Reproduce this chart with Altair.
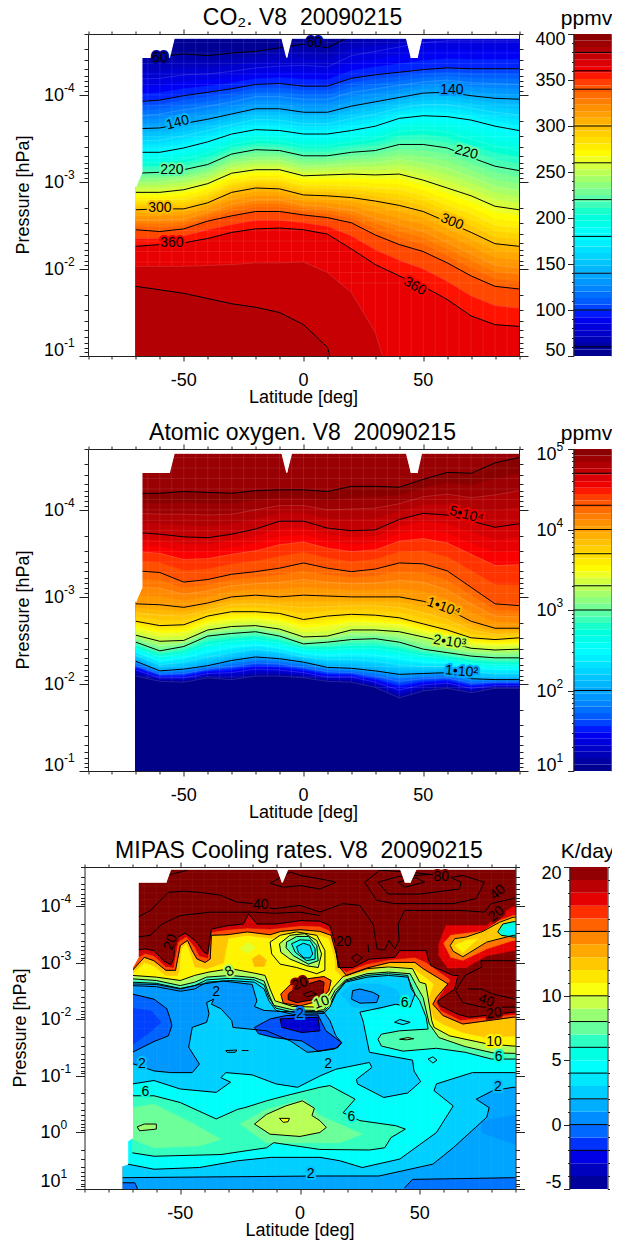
import altair as alt
import pandas as pd

FONT = "Liberation Sans"
JET = ['#000088', '#0000FF', '#00FFFF', '#FFFF00', '#FF0000', '#800000']
JET_T = [0, .125, .375, .625, .875, 1]
LATS = [-70, -60, -50, -40, -30, -20, -10, 0, 10, 20, 30, 40, 50, 60, 70, 80, 90]
X_TICKS = list(range(-90, 91, 10))
GRID_LAT = list(range(-65, 90, 5))
GRID_LOGP = [-4.6 + 0.12 * k for k in range(24)]

# ---------- panel 1: CO2 (log10 pressure of each mixing-ratio level, per latitude)
CO2_60 = [-4.44,-4.44,-4.47,-4.45,-4.48,-4.50,-4.54,-4.58,-4.54,-4.68,-4.68,-4.68,-4.68,-4.68,-4.68,-4.68,-4.68]
CO2_80 = [-4.18,-4.19,-4.23,-4.24,-4.27,-4.31,-4.33,-4.34,-4.32,-4.45,-4.50,-4.55,-4.60,-4.62,-4.62,-4.62,-4.62]
CO2_100 = [-3.92,-3.94,-3.99,-4.03,-4.07,-4.12,-4.13,-4.10,-4.10,-4.19,-4.23,-4.26,-4.29,-4.31,-4.30,-4.30,-4.30]
CO2_120 = [-3.76,-3.78,-3.83,-3.87,-3.92,-3.98,-3.98,-3.95,-3.95,-4.03,-4.07,-4.11,-4.15,-4.17,-4.14,-4.13,-4.12]
CO2_140 = [-3.61,-3.62,-3.67,-3.72,-3.78,-3.84,-3.84,-3.80,-3.80,-3.87,-3.92,-3.97,-4.02,-4.03,-3.99,-3.96,-3.95]
CO2_160 = [-3.47,-3.48,-3.53,-3.59,-3.66,-3.72,-3.71,-3.67,-3.67,-3.73,-3.78,-3.85,-3.89,-3.89,-3.85,-3.80,-3.77]
CO2_180 = [-3.34,-3.34,-3.39,-3.46,-3.55,-3.60,-3.59,-3.55,-3.55,-3.59,-3.64,-3.73,-3.76,-3.75,-3.71,-3.64,-3.59]
CO2_200 = [-3.22,-3.22,-3.26,-3.33,-3.43,-3.48,-3.47,-3.42,-3.42,-3.46,-3.50,-3.58,-3.60,-3.57,-3.49,-3.41,-3.36]
CO2_220 = [-3.10,-3.11,-3.14,-3.20,-3.32,-3.37,-3.36,-3.30,-3.30,-3.34,-3.36,-3.43,-3.43,-3.39,-3.28,-3.18,-3.13]
CO2_240 = [-2.99,-3.00,-3.03,-3.09,-3.21,-3.25,-3.25,-3.18,-3.19,-3.21,-3.22,-3.26,-3.22,-3.16,-3.06,-2.95,-2.90]
CO2_260 = [-2.88,-2.88,-2.91,-2.98,-3.10,-3.14,-3.14,-3.07,-3.08,-3.09,-3.08,-3.09,-3.02,-2.93,-2.84,-2.72,-2.68]
CO2_280 = [-2.78,-2.78,-2.80,-2.87,-2.99,-3.03,-3.03,-2.96,-2.96,-2.95,-2.93,-2.91,-2.84,-2.73,-2.63,-2.50,-2.47]
CO2_300 = [-2.68,-2.69,-2.69,-2.76,-2.88,-2.93,-2.92,-2.85,-2.84,-2.82,-2.78,-2.73,-2.66,-2.54,-2.42,-2.29,-2.26]
CO2_320 = [-2.56,-2.56,-2.57,-2.65,-2.74,-2.79,-2.79,-2.73,-2.71,-2.67,-2.58,-2.50,-2.43,-2.30,-2.17,-2.04,-2.01]
CO2_340 = [-2.45,-2.43,-2.46,-2.55,-2.61,-2.66,-2.66,-2.62,-2.59,-2.53,-2.39,-2.28,-2.20,-2.07,-1.92,-1.80,-1.77]
CO2_350 = [-2.35,-2.35,-2.38,-2.45,-2.51,-2.56,-2.56,-2.53,-2.49,-2.38,-2.22,-2.10,-2.00,-1.86,-1.69,-1.58,-1.55]
CO2_360 = [-2.26,-2.28,-2.30,-2.35,-2.42,-2.46,-2.47,-2.45,-2.40,-2.23,-2.05,-1.92,-1.80,-1.65,-1.46,-1.36,-1.34]
CO2_370_LAT = [-70,-60,-50,-40,-30,-20,-10,0,10,20,30,33]
CO2_370 = [-2.03,-2.03,-2.03,-2.04,-2.05,-2.07,-2.07,-2.08,-1.96,-1.73,-1.27,-1.00]
CO2_380_LAT = [-70,-60,-50,-40,-30,-20,-10,0,10,11]
CO2_380 = [-1.80,-1.76,-1.72,-1.66,-1.60,-1.56,-1.50,-1.36,-1.10,-1.00]

CO2_BANDS = [(60,CO2_60,1),(80,CO2_80,0),(100,CO2_100,1),(120,CO2_120,0),(140,CO2_140,1),(160,CO2_160,0),
             (180,CO2_180,1),(200,CO2_200,0),(220,CO2_220,1),(240,CO2_240,0),(260,CO2_260,1),(280,CO2_280,0),
             (300,CO2_300,1),(320,CO2_320,0),(340,CO2_340,1),(350,CO2_350,0),(360,CO2_360,1)]
CO2_LABELS = [(-60,-4.42,"60",0,58),(4.5,-4.59,"60",0,60),(62,-4.05,"140",0,130),(-52.5,-3.68,"140",345,145),
              (-55,-3.14,"220",0,222),(68,-3.34,"220",15,222),(-60,-2.70,"300",0,300),(62,-2.54,"300",22,300),
              (-55,-2.30,"360",0,360),(46.5,-1.80,"360",30,360)]

# ---------- panel 2: atomic oxygen
O_1e5 = [-4.19,-4.19,-4.21,-4.20,-4.19,-4.22,-4.23,-4.23,-4.21,-4.27,-4.27,-4.26,-4.35,-4.43,-4.42,-4.54,-4.60]
O_7e4 = [-3.96,-3.95,-3.95,-3.94,-3.95,-4.00,-4.05,-4.05,-4.00,-4.01,-4.02,-4.07,-4.15,-4.18,-4.14,-4.17,-4.22]
O_5e4 = [-3.74,-3.72,-3.69,-3.68,-3.72,-3.78,-3.87,-3.87,-3.79,-3.76,-3.77,-3.89,-3.96,-3.94,-3.87,-3.80,-3.84]
O_3e4 = [-3.52,-3.50,-3.43,-3.44,-3.49,-3.53,-3.60,-3.63,-3.56,-3.52,-3.54,-3.64,-3.67,-3.62,-3.49,-3.36,-3.37]
O_2e4 = [-3.30,-3.28,-3.17,-3.20,-3.26,-3.29,-3.33,-3.39,-3.33,-3.29,-3.32,-3.39,-3.38,-3.30,-3.11,-2.92,-2.90]
O_14e3 = [-3.11,-3.10,-3.03,-3.07,-3.13,-3.15,-3.17,-3.20,-3.17,-3.15,-3.16,-3.19,-3.17,-3.08,-2.92,-2.78,-2.77]
O_1e4 = [-2.92,-2.91,-2.88,-2.93,-3.00,-3.02,-3.00,-3.02,-3.01,-3.00,-3.00,-3.00,-2.95,-2.86,-2.72,-2.64,-2.64]
O_7e3 = [-2.82,-2.79,-2.78,-2.85,-2.91,-2.92,-2.90,-2.88,-2.89,-2.90,-2.90,-2.88,-2.82,-2.74,-2.62,-2.57,-2.58]
O_5e3 = [-2.72,-2.67,-2.68,-2.78,-2.83,-2.83,-2.81,-2.74,-2.78,-2.80,-2.79,-2.76,-2.69,-2.62,-2.53,-2.51,-2.53]
O_3e3 = [-2.64,-2.58,-2.59,-2.70,-2.74,-2.75,-2.72,-2.64,-2.66,-2.71,-2.70,-2.68,-2.61,-2.55,-2.47,-2.45,-2.46]
O_2e3 = [-2.56,-2.49,-2.50,-2.62,-2.66,-2.67,-2.63,-2.54,-2.55,-2.62,-2.62,-2.60,-2.54,-2.48,-2.41,-2.39,-2.40]
O_14e2 = [-2.52,-2.44,-2.47,-2.59,-2.62,-2.64,-2.59,-2.50,-2.52,-2.57,-2.57,-2.54,-2.47,-2.42,-2.37,-2.35,-2.35]
O_1e3 = [-2.48,-2.38,-2.43,-2.55,-2.58,-2.60,-2.55,-2.46,-2.48,-2.51,-2.52,-2.48,-2.40,-2.36,-2.32,-2.30,-2.30]
O_500 = [-2.41,-2.31,-2.35,-2.45,-2.49,-2.51,-2.47,-2.40,-2.39,-2.41,-2.41,-2.37,-2.32,-2.29,-2.24,-2.22,-2.22]
O_300 = [-2.37,-2.26,-2.30,-2.37,-2.42,-2.45,-2.41,-2.35,-2.33,-2.34,-2.33,-2.29,-2.25,-2.24,-2.18,-2.17,-2.17]
O_200 = [-2.33,-2.22,-2.25,-2.31,-2.36,-2.40,-2.37,-2.31,-2.28,-2.28,-2.26,-2.22,-2.20,-2.20,-2.14,-2.12,-2.12]
O_100 = [-2.26,-2.15,-2.17,-2.21,-2.27,-2.31,-2.29,-2.25,-2.19,-2.18,-2.15,-2.11,-2.12,-2.13,-2.06,-2.05,-2.05]
O_50 = [-2.21,-2.11,-2.12,-2.17,-2.20,-2.24,-2.23,-2.19,-2.14,-2.13,-2.09,-2.03,-2.06,-2.07,-2.01,-2.02,-2.02]
O_25 = [-2.16,-2.07,-2.07,-2.12,-2.13,-2.17,-2.16,-2.13,-2.08,-2.08,-2.02,-1.93,-1.99,-2.01,-1.95,-1.98,-1.98]
O_12 = [-2.09,-2.03,-2.02,-2.07,-2.05,-2.09,-2.09,-2.07,-2.03,-2.02,-1.96,-1.84,-1.92,-1.95,-1.90,-1.95,-1.95]
O_BANDS = [(5.0,O_1e5,1),(4.845,O_7e4,0),(4.7,O_5e4,1),(4.477,O_3e4,0),(4.3,O_2e4,1),(4.146,O_14e3,0),(4.0,O_1e4,1),
           (3.845,O_7e3,0),(3.7,O_5e3,1),(3.477,O_3e3,0),(3.3,O_2e3,1),(3.146,O_14e2,0),(3.0,O_1e3,1),(2.7,O_500,0),
           (2.477,O_300,0),(2.3,O_200,0),(2.0,O_100,1),(1.7,O_50,0),(1.4,O_25,0),(1.08,O_12,0)]
O_LABELS = [(68,-3.94,"5\u202210\u2074",15,4.6),(58.5,-2.88,"1\u202210\u2074",20,3.9),
            (61,-2.48,"2\u202210\u00b3",8,3.3),(66,-2.14,"1\u202210\u00b2",5,2.0)]

TOP_MASK = [(-70,-2.95),(-67.5,-3.11),(-67.5,-4.43),(-56,-4.43),(-54,-4.65),(-9,-4.65),(-7,-4.43),(-5,-4.65),
            (43,-4.65),(45,-4.43),(47.5,-4.43),(49.3,-4.65),(91,-4.65),(91,-4.8),(-71,-4.8),(-71,-2.95)]

# ---------- panel 3: cooling rates; closed regions painted in order: (value, outlined, outline points)
CR_BASE = [(-74.4,1.1),(-74.4,0.59),(-72,0.56),(-72,0.15),(-70,0.09),(-70,-4.68),(95,-4.68),(95,1.1)]
CR_COLD4 = [(-72,-2.60),(-60,-2.58),(-50,-2.50),(-44,-2.54),(-39,-2.66),(-29,-2.69),(-19,-2.66),(-15,-2.54),(-13,-2.33),(-10,-2.16),
            (-3,-2.09),(7,-2.10),(10,-2.11),(12.5,-2.22),(15,-2.45),(19,-2.66),(28,-2.75),(37,-2.78),(45,-2.75),(48,-2.45),(46,-2.22),
            (40,-2.27),(35,-2.22),(25,-2.13),(26.3,-1.98),(29,-1.42),(47,-1.28),(47.6,-1.09),(50.4,-0.90),(45,-0.70),(35,-0.62),(24,-0.86),
            (23.6,-0.94),(30,-1.15),(29,-1.24),(15,-1.12),(8.3,-1.00),(-1,-0.80),(-10,-0.86),(-20,-1.02),(-31,-1.06),(-33,-0.97),(-29,-0.89),
            (-35,-0.71),(-50,-0.77),(-61,-0.92),(-72,-0.86),(-72,-2.60)]
CR_LOW4 = [(-72,0.56),(-61,0.65),(-42,0.62),(-26,0.50),(-12,0.44),(8.3,0.44),(16.6,0.50),(26,0.62),(41.7,0.47),(57,0.0),(64,-0.47),
           (56,-0.74),(57,-0.86),(72,-1.06),(89,-1.06),(95,-1.06),(95,1.1),(-74.4,1.1),(-74.4,0.59)]
CR_LOW2 = [(-74.4,0.80),(8.3,0.77),(33,0.77),(55.5,0.56),(64,0.27),(78,-0.27),(79,-0.44),(73.6,-0.59),(80.5,-0.74),(89,-0.80),(95,-0.80),
           (95,1.1),(-74.4,1.1)]
CR_LOW2_IN = [(76,-0.2),(89,-0.3),(95,-0.3),(95,0.25),(89,0.2),(76,0.0)]
CR_LOW0 = [(43.7,0.98),(47,0.83),(89,0.80),(95,0.80),(95,1.1),(43,1.1)]
CR_LOW0B = [(-74.4,0.89),(-69,0.89),(-68,0.98),(-68,1.1),(-74.4,1.1)]
CR_LOBE6 = [(-72,-0.65),(-61,-0.65),(-50,-0.53),(-35,-0.24),(-26,-0.41),(-23,-0.44),(-14,-0.56),(-6,-0.65),(8.3,-0.80),(12.5,-0.83),(23,-0.59),
            (18,-0.35),(25,-0.21),(40,-0.12),(44,-0.06),(38,0.09),(35.4,0.27),(29,0.31),(8.3,0.30),(-11,0.18),(-14,0.27),(-33,0.39),(-61,0.42),(-72,0.36),(-72,-0.65)]
CR_SHADE_L = [(-72,-0.44),(-61,-0.50),(-47,-0.21),(-33,0.12),(-42,0.24),(-61,0.27),(-72,0.12)]
CR_SHADE_E = [(-25,-0.15),(-14,-0.41),(2,-0.59),(8.3,-0.30),(26,0.03),(16.6,0.18),(-14,0.18)]
CR_BLOB8L = [(-68,-0.10),(-65,-0.15),(-60,-0.15),(-60,-0.06),(-67,-0.03),(-68,-0.10)]
CR_BLOB8E = [(-19,-0.15),(-14,-0.32),(-6,-0.47),(1,-0.56),(6,-0.43),(5,-0.30),(8.3,-0.21),(11,-0.09),(8.3,0.0),(0,0.07),(-12.5,0.03),(-19,-0.15)]
CR_BLOB10 = [(-8.6,-0.25),(-4.4,-0.25),(-5,-0.19),(-7,-0.18),(-8.6,-0.25)]
CR_S6 = [(-72,-2.66),(-60,-2.64),(-50,-2.55),(-44,-2.60),(-39,-2.70),(-29,-2.73),(-19,-2.70),(-15,-2.61),(-13,-2.39),(-10,-2.20),(-3,-2.13),(7,-2.13),(10,-2.14),
         (12.5,-2.26),(15,-2.48),(19,-2.68),(28,-2.78),(37,-2.81),(45,-2.78),(46.5,-2.54),(50,-2.33),(52.7,-2.04),(53.5,-1.83),(41.6,-1.80),(34,-1.74),(32.6,-1.65),
         (34,-1.53),(43,-1.44),(57,-1.49),(69,-1.42),(80,-1.30),(90,-1.30),(95,-1.30),(95,-4.68),(-72,-4.68)]
CR_S8 = [(-72,-2.72),(-60,-2.69),(-50,-2.60),(-44,-2.66),(-39,-2.75),(-29,-2.78),(-19,-2.74),(-15,-2.68),(-13,-2.45),(-11,-2.25),(-3,-2.17),(7,-2.16),(10,-2.17),
         (12,-2.30),(14.6,-2.51),(19,-2.70),(28,-2.81),(37,-2.84),(46,-2.81),(48.6,-2.60),(51.4,-2.39),(54,-1.92),(58,-1.68),(69,-1.52),(80.5,-1.41),(90,-1.40),(95,-1.40),(95,-4.68),(-72,-4.68)]
CR_S10 = [(-72,-2.78),(-60,-2.75),(-50,-2.69),(-44,-2.78),(-38,-2.84),(-29,-2.90),(-19,-2.82),(-14.6,-2.78),(-12.5,-2.54),(-10.4,-2.33),(-3,-2.23),(7,-2.22),(10,-2.24),
          (11.4,-2.39),(14,-2.57),(18,-2.76),(28,-2.90),(37,-2.93),(47,-2.90),(50,-2.66),(52.5,-2.63),(53.5,-2.39),(55,-1.98),(56,-1.86),(62.5,-1.71),(78,-1.57),(89,-1.53),(95,-1.53),(95,-4.68),(-72,-4.68)]
CR_U12 = [(-72,-2.82),(-70,-2.82),(-65,-3.01),(-61,-2.95),(-56,-2.78),(-51.4,-2.78),(-50.7,-2.84),(-49.6,-3.25),(-47.5,-3.35),(-45.8,-3.19),(-43.8,-2.93),(-39,-2.90),(-35.4,-2.95),
          (-32,-3.0),(-30,-3.44),(-22,-3.49),(-12.5,-3.44),(0,-3.49),(8,-3.49),(12,-3.44),(14.6,-3.10),(15,-2.87),(17.8,-2.74),(26.4,-2.84),(37.5,-2.95),(47,-2.92),(51.4,-2.78),(56,-2.63),
          (54,-2.39),(54.8,-2.16),(56.2,-2.01),(59.7,-1.92),(68,-1.77),(78,-1.68),(89,-1.71),(95,-1.71),(95,-4.68),(-72,-4.68)]
CR_U15 = [(-72,-2.87),(-70,-2.87),(-65,-3.10),(-61,-3.04),(-56,-2.87),(-52,-2.87),(-50,-3.31),(-47,-3.40),(-45,-3.22),(-43,-3.07),(-39.6,-3.01),(-37.5,-3.07),(-37,-3.49),(-30.5,-3.50),
          (-22,-3.55),(-12.5,-3.50),(-8,-3.56),(0,-3.59),(8.3,-3.56),(13,-3.49),(15,-3.19),(16.6,-2.92),(19.4,-2.78),(27.8,-2.91),(37.5,-3.01),(48,-3.01),(51.4,-2.90),(61.8,-2.63),(57,-2.39),
          (55.5,-2.27),(59.7,-2.07),(68,-1.92),(89,-2.04),(95,-2.04),(95,-4.68),(-72,-4.68)]
CR_U18 = [(-72,-3.0),(-69,-3.07),(-64.6,-3.17),(-61,-3.13),(-56,-2.94),(-53,-2.92),(-51,-3.37),(-47.5,-3.47),(-44,-3.29),(-42,-3.13),(-38.6,-3.09),(-37,-3.55),(-30.5,-3.59),(-22,-3.62),
          (-12.5,-3.60),(0,-3.66),(8.3,-3.65),(12.5,-3.57),(15,-3.28),(16.4,-2.92),(19.4,-2.85),(27.8,-2.98),(37.5,-3.06),(48,-3.10),(52.8,-3.01),(63,-2.70),(60,-2.51),(57,-2.30),(59,-2.16),
          (67,-1.99),(89,-2.09),(95,-2.09),(95,-4.68),(-72,-4.68)]
CR_U20 = [(-72,-3.2),(-68,-3.23),(-64.6,-3.25),(-61,-3.22),(-57,-3.04),(-54,-2.97),(-52.8,-3.07),(-52,-3.43),(-48,-3.53),(-43.8,-3.40),(-40,-3.19),(-38.6,-3.16),(-37,-3.60),(-30.5,-3.66),
          (-23.6,-3.69),(-21.5,-3.87),(-18,-3.69),(-10,-3.69),(0,-3.75),(8.3,-3.74),(12.5,-3.66),(14.6,-3.37),(16,-2.92),(22,-2.92),(28.9,-3.07),(39.6,-3.10),(41.7,-3.22),(52.8,-3.22),(53.5,-3.07),
          (54.8,-2.95),(63.9,-2.78),(66,-2.78),(64.6,-2.54),(57.6,-2.33),(58.3,-2.25),(66,-2.09),(70.8,-2.04),(89,-2.13),(95,-2.13),(95,-4.68),(-72,-4.68)]
CR_TONGUE_R = [(58,-3.34),(61,-3.66),(78,-3.66),(82.6,-3.84),(88.9,-3.99),(95,-3.99),(95,-3.20),(89,-3.22),(78,-3.13),(69.4,-2.92),(61.8,-2.91),(58,-3.13),(58,-3.34)]
CR_TONGUE_O = [(60,-3.35),(63,-3.49),(76.4,-3.56),(83.3,-3.75),(89,-3.84),(95,-3.84),(95,-3.40),(89,-3.40),(78,-3.25),(68,-3.05),(63,-3.10),(60,-3.35)]
CR_TONGUE_Y = [(62.7,-3.31),(64.6,-3.43),(69.4,-3.46),(76.4,-3.56),(83.3,-3.72),(89,-3.81),(95,-3.81),(95,-3.49),(89,-3.49),(78,-3.37),(68,-3.11),(63.9,-3.21),(62.7,-3.31)]
CR_TONGUE_G = [(64.6,-3.31),(69.4,-3.40),(74.3,-3.43),(68,-3.19)]
CR_TONGUE_C = [(82.6,-3.55),(84.7,-3.69),(89,-3.73),(95,-3.73),(95,-3.46),(89,-3.46),(84,-3.49),(82.6,-3.55)]
CR_TONGUE_B = [(86,-3.6),(89,-3.66),(95,-3.66),(95,-3.5),(86,-3.52)]
CR_SPOT_O = [(-20,-3.07),(-17,-3.15),(-14,-3.05),(-15,-2.94),(-19,-2.94)]
CR_SPOT_G = [(-25,-3.25),(-21.5,-3.37),(-18.8,-3.28),(-21.5,-3.17)]
CR_R1 = [(-12.5,-3.37),(-8.3,-3.49),(-1.4,-3.55),(7,-3.49),(10.4,-3.22),(10.4,-2.87),(7,-2.81),(-1.4,-2.92),(-8.3,-2.98),(-11.8,-3.16),(-12.5,-3.37)]
CR_R2 = [(-8.6,-3.34),(-4.2,-3.49),(2,-3.52),(7,-3.40),(9,-3.16),(7.6,-2.92),(2.8,-2.95),(-4.2,-3.07),(-8,-3.19),(-8.6,-3.34)]
CR_R3 = [(-5.6,-3.37),(-1.4,-3.47),(3.5,-3.47),(7,-3.31),(7.6,-3.04),(3.5,-2.98),(-2.8,-3.13),(-5.8,-3.27),(-5.6,-3.37)]
CR_R4 = [(-3.5,-3.34),(0,-3.41),(4.2,-3.40),(6.3,-3.25),(6.3,-3.07),(2.8,-3.04),(-2,-3.19),(-3.5,-3.34)]
CR_R5 = [(-1.4,-3.29),(1.4,-3.35),(4.2,-3.31),(5.3,-3.16),(4.2,-3.09),(1.7,-3.09),(-0.7,-3.19),(-1.4,-3.29)]
CR_HOT15 = [(-8,-2.45),(-4,-2.62),(3,-2.72),(8.3,-2.75),(10,-2.76),(13,-2.69),(12,-2.51),(8.3,-2.33),(0,-2.24),(-7,-2.29),(-8,-2.45)]
CR_HOT20 = [(-4.9,-2.45),(-1.4,-2.57),(8.3,-2.69),(10,-2.66),(9.7,-2.48),(7,-2.36),(-1.4,-2.30),(-4.9,-2.35),(-4.9,-2.45)]
CR_HOT40 = [(1.4,-2.45),(4.6,-2.50),(7,-2.45),(2.8,-2.40),(1.4,-2.45)]
CR_Z2 = [(-72,-2.63),(-60,-2.62),(-50,-2.54),(-42,-2.62),(-32,-2.68),(-20,-2.62),(-18,-2.33),(-19,-2.23),(-15,-2.16),(-7,-2.14),(8.3,-2.14),(10,-2.13),(12.5,-1.98),(15,-1.71),
         (17.4,-1.59),(14.6,-1.48),(8.3,-1.44),(3,-1.42),(-4,-1.62),(-14,-1.80),(-28,-1.86),(-28.5,-1.98),(-33,-2.19),(-37,-2.27),(-36,-2.36),(-39,-2.30),(-38,-2.1),(-39,-1.95),(-45,-1.86),
         (-46.5,-1.51),(-42,-1.21),(-45,-1.06),(-54,-1.06),(-61,-1.09),(-70,-1.22),(-72,-1.22),(-72,-2.63)]
CR_Z0L = [(-70,-1.42),(-61,-1.61),(-55,-1.71),(-53.5,-1.89),(-54,-1.98),(-55.6,-2.19),(-61,-2.36),(-70,-2.45),(-72,-2.45),(-72,-1.42),(-70,-1.42)]
CR_Z0L_IN = [(-70,-2.2),(-62,-2.15),(-58,-1.95),(-62,-1.80),(-70,-1.55),(-72,-1.55),(-72,-2.2)]
CR_Z0C = [(-19,-1.86),(-12.4,-2.01),(-5.8,-2.07),(7.5,-2.08),(10.8,-1.80),(17.4,-1.59),(15.7,-1.50),(7.5,-1.44),(0.8,-1.62),(-10.8,-1.68),(-17.4,-1.75),(-19,-1.86)]
CR_Z0C_IN = [(-8.3,-2.01),(7.5,-2.04),(8.3,-1.80),(0.8,-1.77),(-7.5,-1.86),(-8.3,-2.01)]
CR_NH2 = [(17,-2.45),(22,-2.63),(33,-2.63),(40,-2.54),(43,-2.33),(33,-2.18),(22,-2.22)]
CR_NH0 = [(22,-2.51),(25,-2.54),(30.5,-2.48),(33,-2.42),(32,-2.30),(25,-2.29),(21.5,-2.36),(22,-2.51)]
CR_NH8 = [(41.6,-1.65),(45,-1.68),(47.5,-1.66),(44.4,-1.64),(41.6,-1.65)]
CR_NH4 = [(39.5,-1.95),(41.7,-2.0),(46,-1.95),(43,-1.91),(39.5,-1.95)]

CR_PAINT = [(4.6,0,CR_BASE),(2.6,1,CR_COLD4),(2.6,1,CR_LOW4),(1.2,1,CR_LOW2),(0.7,0,CR_LOW2_IN),(-0.2,1,CR_LOW0),(-0.2,1,CR_LOW0B),
            (6.6,1,CR_LOBE6),(7.6,0,CR_SHADE_L),(7.6,0,CR_SHADE_E),(8.6,1,CR_BLOB8L),(9.2,1,CR_BLOB8E),(10.5,1,CR_BLOB10),
            (7,1,CR_S6),(9,1,CR_S8),(11,1,CR_S10),(12.6,0,CR_U12),(16,1,CR_U15),(18,0,CR_U18),(20.5,1,CR_U20),
            (17.5,0,CR_TONGUE_R),(15,0,CR_TONGUE_O),(12.5,1,CR_TONGUE_Y),(11,0,CR_TONGUE_G),(6,1,CR_TONGUE_C),(4,0,CR_TONGUE_B),
            (13,0,CR_SPOT_O),(10,0,CR_SPOT_G),(10.5,1,CR_R1),(9,1,CR_R2),(7,1,CR_R3),(5,1,CR_R4),(3,1,CR_R5),
            (16,1,CR_HOT15),(20.5,1,CR_HOT20),(20.5,1,CR_HOT40),
            (0.8,1,CR_Z2),(-0.6,1,CR_Z0L),(-1.3,0,CR_Z0L_IN),(-1,1,CR_Z0C),(-3,1,CR_Z0C_IN),(2,0,CR_NH2),(0.5,1,CR_NH0),(8.6,1,CR_NH8),(3.6,1,CR_NH4)]
CR_WIDE = [id(CR_BASE), id(CR_LOW4), id(CR_LOW2), id(CR_LOW0B)]

CR_LINES = [
    [(-67.8,-3.81),(-62.5,-3.93),(-55,-4.25),(-48.6,-4.27),(-41.7,-4.25),(-33.3,-4.20),(-26.4,-4.08),(-19.4,-4.05),(-11,-3.96),(0,-4.02),(8.3,-3.90),
     (18,-4.05),(25,-4.02),(30.5,-3.69),(32.2,-3.25),(35.4,-3.23),(37.2,-3.40),(39.6,-3.25),(41.4,-3.40),(41,-3.69),(43.7,-3.93),(54,-3.93),(66.6,-3.93),(77,-3.90),(79.8,-4.05),(88.9,-4.14),(90,-4.16)],
    [(-67.8,-3.46),(-62.5,-3.49),(-57.6,-3.69),(-50,-3.84),(-37.5,-3.90),(-27.8,-3.90),(-19.4,-3.90),(-11,-3.88),(0,-3.90),(8.3,-3.84)],
    [(-56,-4.55),(-47,-4.64)],
    [(-12.5,-4.41),(-7,-4.34),(0,-4.37),(8.3,-4.31),(15,-4.43),(8.3,-4.49),(0,-4.55),(-4,-4.61),(-12.5,-4.41)],
    [(27,-4.43),(32,-4.11),(39.6,-4.05),(63.9,-4.05),(73.6,-4.14),(77,-4.43),(68,-4.55),(63.9,-4.52),(45.8,-4.61),(33.3,-4.64),(27,-4.43)],
    [(32.6,-4.43),(36.8,-4.22),(50,-4.22),(66.6,-4.31),(67.3,-4.43),(62.5,-4.52),(55.5,-4.57),(41,-4.53),(32.6,-4.43)],
    [(41,-4.43),(43.7,-4.34),(52,-4.43),(48.6,-4.51),(41,-4.43)],
    [(21.5,-3.09),(23.6,-3.16),(26,-3.09),(23.6,-3.01),(21.5,-3.09)],
    [(28.4,-3.33),(28.7,-3.19)],
    [(53.5,-1.30),(55.5,-1.34),(57.2,-1.28),(55.5,-1.23),(53.5,-1.30)],
    [(-31,-1.45),(-26.4,-1.46),(-27,-1.42),(-30.5,-1.42),(-31,-1.45)],
    [(-24.3,-1.45),(-21.5,-1.45)],
    [(90,-3.04),(75.5,-3.04),(76,-2.93),(69,-2.78),(65,-2.51),(68,-2.30),(76,-2.22),(90,-2.22)],
    [(70,-2.54),(76,-2.54),(80.5,-2.45),(90,-2.36)],
]
CR_LABELS = [(-16.4,-4.02,"40",0,20.5),(-54,-3.37,"20",290,20.5),(18.3,-3.37,"20",0,20.5),(0,-2.63,"20",340,20.5),(9,-2.30,"10",340,9),
             (0,-2.10,"2",0,0),(-29.4,-2.85,"8",330,9),(-35,-2.49,"2",0,1),(43.7,-2.30,"6",0,6),(59,-4.52,"80",0,20.5),(82.6,-4.25,"40",320,20.5),
             (82,-3.87,"20",320,20.5),(81,-2.11,"20",350,20.5),(77.8,-2.33,"40",20,20.5),(81,-1.61,"10",0,11),(83,-1.33,"6",0,6),(11.8,-1.22,"2",0,2.6),
             (82.6,-0.81,"2",0,2),(21.5,-0.27,"6",0,5.5),(-66,-1.21,"2",0,2),(-64.6,-0.71,"6",0,5.5),(4.4,0.73,"2",0,2)]
CR_MASK = [(-76,1.1),(-74.4,1.1),(-74.4,0.59),(-72,0.56),(-72,0.15),(-70,0.09),(-70,-2.92),(-67.6,-3.10),(-67.6,-4.43),(-56,-4.43),(-54,-4.66),(-9.4,-4.66),(-7.4,-4.43),
           (-5.1,-4.66),(42,-4.66),(44,-4.43),(46,-4.43),(48.5,-4.66),(91,-4.66),(91,-4.8),(-76,-4.8)]

# ---------- colour bars
CO2_BAR_EDGES = [50 + 7 * k for k in range(51)]
O_BAR_EDGES = [1 + 0.08 * k for k in range(51)]
CR_BAR_EDGES = list(range(-5, 21))
CO2_BAR_LINES = [60, 100, 140, 180, 220, 260, 300, 340, 360, 380]
O_BAR_LINES = [50000, 20000, 10000, 5000, 2000, 1000, 100]
CR_BAR_LINES = [-2, 0, 2, 4, 6, 8, 10, 15]
CO2_BAR_TICKS = list(range(50, 401, 10))
CR_BAR_TICKS = list(range(-5, 21))
O_BAR_TICKS = [m * 10 ** e for e in range(1, 5) for m in range(1, 10)] + [100000]


def jet(lo, hi):
    return alt.Scale(domain=[lo + (hi - lo) * t for t in JET_T], range=JET, clamp=True)


def slabs(pts):
    """Split a closed outline into pieces that a vertical-band area mark can draw."""
    edges = list(zip(pts, pts[1:] + pts[:1]))
    xs = sorted(set(p[0] for p in pts))
    out = []
    for a, b in zip(xs, xs[1:]):
        m = (a + b) / 2
        hit = []
        for (x1, y1), (x2, y2) in edges:
            if min(x1, x2) <= m < max(x1, x2):
                f = lambda x: y1 + (x - x1) / (x2 - x1) * (y2 - y1)
                hit.append((f(m), f(a), f(b)))
        hit.sort()
        for k in range(0, len(hit) - 1, 2):
            out.append((a, b, hit[k][1], hit[k + 1][1], hit[k][2], hit[k + 1][2]))
    return out


def polys_df(polys):
    rows = []
    n = 0
    for val, pts in polys:
        for a, b, t1, b1, t2, b2 in slabs(pts):
            rows.append(dict(id=n, lat=a, p=10.0 ** t1, p2=10.0 ** b1, val=val))
            rows.append(dict(id=n, lat=b, p=10.0 ** t2, p2=10.0 ** b2, val=val))
            n += 1
    return pd.DataFrame(rows)


def lines_df(lines):
    rows = []
    for n, pts in enumerate(lines):
        for i, (lat, lp) in enumerate(pts):
            rows.append(dict(id=n, i=i, lat=lat, p=10.0 ** lp))
    return pd.DataFrame(rows)


def minor_ticks(lo, hi):
    out = []
    for e in range(lo, hi):
        out += [float(f"{m}e{e}") for m in range(1, 10)]
    out.append(float(f"1e{hi}"))
    return out


MAJOR_LOG = "abs(log(datum.value)/LN10-round(log(datum.value)/LN10))<0.001"


def ticks_axis(orient, values, test, big, small, offset=0):
    return alt.Axis(orient=orient, values=values, labels=False, title=None, grid=False, zindex=1, offset=offset,
                    tickColor="#222", domainColor="#222", tickWidth=1, domainWidth=1,
                    tickSize={"condition": {"test": test, "value": big}, "value": small})


def text(df, enc, **kw):
    return alt.Chart(df).mark_text(font=FONT, **kw).encode(**enc)


def panel(polys, pale, lines, labels, mask, ylo, yhi, ytop, decades, last_dec, title, W, H, cs, last_dy, x0=0, y0=0, grid=0.12, over=None):
    xs = alt.Scale(domain=[-90, 90], nice=False, zero=False, range=[x0, x0 + W])
    ys = alt.Scale(type="log", domain=[ytop, 10.0 ** yhi], nice=False, range=[y0, y0 + H])
    X = alt.X("lat:Q", scale=xs, axis=None)
    Y = alt.Y("p:Q", scale=ys, axis=None)

    def fills(ps):
        return alt.Chart(polys_df(ps)).mark_area(clip=True, strokeWidth=0.6).encode(
            x=X, y=Y, y2="p2:Q", detail="id:N",
            fill=alt.Fill("val:Q", scale=cs, legend=None), stroke=alt.Stroke("val:Q", scale=cs, legend=None))
    layers = [fills(polys)]
    layers.append(alt.Chart(pd.DataFrame({"lat": GRID_LAT})).mark_rule(clip=True, color="white", opacity=grid, strokeWidth=0.8).encode(x=X))
    logs = [v for v in GRID_LOGP if v <= yhi]
    layers.append(alt.Chart(pd.DataFrame({"p": [10.0 ** v for v in logs]})).mark_rule(clip=True, color="white", opacity=grid, strokeWidth=0.8).encode(y=Y))
    if over:
        layers.append(fills(over))
    if pale:
        layers.append(alt.Chart(lines_df(pale)).mark_line(clip=True, color="white", opacity=0.2, strokeWidth=0.7).encode(
            x=X, y=Y, order="i:Q", detail="id:N"))
    layers.append(alt.Chart(lines_df(lines)).mark_line(clip=True, color="black", strokeWidth=1).encode(
        x=X, y=Y, order="i:Q", detail="id:N"))
    mdf = polys_df([(0, mask)])
    layers.append(alt.Chart(mdf).mark_area(clip=True, color="white", stroke="white", strokeWidth=1.2).encode(
        x=X, y=Y, y2="p2:Q", detail="id:N"))
    ldf = pd.DataFrame([dict(lat=a, p=10.0 ** b, t=t, ang=c, halo=d) for a, b, t, c, d in labels])
    txt = []
    for ang, g in ldf.groupby("ang"):
        layers.append(alt.Chart(g).mark_text(font=FONT, fontSize=14, angle=int(ang), strokeWidth=4).encode(
            x=X, y=Y, text="t:N", stroke=alt.Stroke("halo:Q", scale=cs, legend=None), fill=alt.Fill("halo:Q", scale=cs, legend=None)))
        txt.append(alt.Chart(g).mark_text(font=FONT, fontSize=14, angle=int(ang), color="black").encode(
            x=X, y=Y, text="t:N"))
    dummy = pd.DataFrame({"lat": [0], "p": [10.0 ** -3]})
    xt = "datum.value%50==0"
    a1 = alt.Chart(dummy).mark_point(opacity=0).encode(
        x=alt.X("lat:Q", scale=xs, axis=ticks_axis("bottom", X_TICKS, xt, 5, 3)),
        y=alt.Y("p:Q", scale=ys, axis=ticks_axis("left", minor_ticks(ylo, yhi), MAJOR_LOG, 9, 4, offset=-x0)))
    a2 = alt.Chart(dummy).mark_point(opacity=0).encode(
        x=alt.X("lat:Q", scale=xs, axis=ticks_axis("top", X_TICKS, xt, 5, 3, offset=-y0)),
        y=alt.Y("p:Q", scale=ys, axis=ticks_axis("right", minor_ticks(ylo, yhi), MAJOR_LOG, 9, 4)))
    dec = pd.DataFrame({"p": [10.0 ** d for d in decades], "t": ["10"] * len(decades), "e": [str(d) for d in decades]})
    lastd = pd.DataFrame({"p": [10.0 ** last_dec], "t": ["10"], "e": [str(last_dec)]})
    out = []
    for df, dy in ((dec, 6), (lastd, 6 + last_dy)):
        out.append(text(df, dict(x=alt.value(x0), y=Y, text="t:N"), fontSize=18, align="right", dx=-24, dy=dy, baseline="alphabetic"))
        out.append(text(df, dict(x=alt.value(x0), y=Y, text="e:N"), fontSize=12, align="left", dx=-24, dy=dy - 9, baseline="alphabetic"))
    tick_lab = pd.DataFrame({"lat": [-50, 0, 50], "t": ["-50", "0", "50"]})
    out.append(text(tick_lab, dict(x=X, y=alt.value(y0 + H + 30), text="t:N"), fontSize=18, align="center", baseline="alphabetic"))
    one = pd.DataFrame({"t": [title]})
    out.append(text(one, dict(x=alt.value(x0 + W / 2 - 1), y=alt.value(y0 - 9), text="t:N"), fontSize=23, align="center", baseline="alphabetic"))
    one = pd.DataFrame({"t": ["Latitude [deg]"]})
    out.append(text(one, dict(x=alt.value(x0 + W / 2), y=alt.value(y0 + H + 47), text="t:N"), fontSize=18, align="center", baseline="alphabetic"))
    one = pd.DataFrame({"t": ["Pressure [hPa]"]})
    out.append(text(one, dict(x=alt.value(x0 - 59), y=alt.value(y0 + H / 2), text="t:N"), fontSize=18, align="center", baseline="alphabetic", angle=270))
    return alt.layer(*layers, *txt, a1, a2, *out).resolve_axis(x="independent", y="independent").properties(width=W + x0, height=H + y0)


def bar(edges, values_of, bar_lines, tick_vals, test, labels, unit, cs, BW, H, lo, hi, log=False, x0=0, y0=0, unit_dx=0):
    rng = [y0 + H, y0]
    ys = alt.Scale(type="log", domain=[lo, hi], nice=False, range=rng) if log else alt.Scale(domain=[lo, hi], nice=False, zero=False, range=rng)
    Y = alt.Y("a:Q", scale=ys, axis=None)
    us = alt.Scale(domain=[0, 1], nice=False, zero=False)
    U = alt.X("u:Q", scale=us, axis=None)
    rows = [dict(a=values_of(edges[k]), b=values_of(edges[k + 1]), val=(edges[k] + edges[k + 1]) / 2) for k in range(len(edges) - 1)]
    rects = alt.Chart(pd.DataFrame(rows)).mark_rect().encode(
        x=alt.value(x0), x2=alt.value(x0 + BW), y=Y, y2="b:Q", fill=alt.Fill("val:Q", scale=cs, legend=None))
    rules = alt.Chart(pd.DataFrame({"a": bar_lines})).mark_rule(color="black", strokeWidth=1).encode(
        x=alt.value(x0), x2=alt.value(x0 + BW), y=Y)
    dummy = pd.DataFrame({"a": [lo], "u": [0]})
    a1 = alt.Chart(dummy).mark_point(opacity=0).encode(x=U, y=alt.Y("a:Q", scale=ys, axis=ticks_axis("left", tick_vals, test, 6, 2, offset=-x0)))
    a2 = alt.Chart(dummy).mark_point(opacity=0).encode(x=U, y=alt.Y("a:Q", scale=ys, axis=ticks_axis("right", tick_vals, test, 2, 2)))
    out = []
    for v, t, dy, e in labels:
        d = pd.DataFrame({"a": [v], "t": [t], "e": [e]})
        if e:
            out.append(text(d, dict(x=alt.value(x0), y=Y, text="t:N"), fontSize=18, align="right", dx=-17, dy=dy, baseline="alphabetic"))
            out.append(text(d, dict(x=alt.value(x0), y=Y, text="e:N"), fontSize=12, align="left", dx=-17, dy=dy - 9, baseline="alphabetic"))
        else:
            out.append(text(d, dict(x=alt.value(x0), y=Y, text="t:N"), fontSize=18, align="right", dx=-8, dy=dy, baseline="alphabetic"))
    one = pd.DataFrame({"t": [unit]})
    out.append(text(one, dict(x=alt.value(x0 + BW / 2 + unit_dx), y=alt.value(y0 - 9), text="t:N"), fontSize=21, align="center", baseline="alphabetic"))
    return alt.layer(rects, rules, a1, a2, *out).resolve_axis(y="independent").properties(width=BW + x0, height=H + y0)


def shaded(bands, base_val, step, bottom, left=-70):
    """Fill between the read level curves in the colour-bar's own steps."""
    polys = [(base_val, [(left, -4.68), (91, -4.68), (91, bottom), (left, bottom)])]
    for (l1, r1, _), (l2, r2, _) in zip(bands, bands[1:]):
        n = max(1, round(abs(l2 - l1) / step))
        for k in range(n):
            f = k / n
            row = [a + f * (b - a) for a, b in zip(r1, r2)]
            col = l1 + (k + 0.5) / n * (l2 - l1)
            polys.append((col, list(zip(LATS, row)) + [(91, row[-1]), (91, bottom), (left, bottom)]))
    return polys


def no_left_edge(pts):
    out, cur = [], [pts[0]]
    for a, b in zip(pts, pts[1:]):
        if a[0] == b[0] == -70:
            out.append(cur)
            cur = [b]
        else:
            cur.append(b)
    out.append(cur)
    return [c for c in out if len(c) > 1]


W, H, BW = 431, 322, 38
bottom = -0.9
p1 = shaded(CO2_BANDS, 55, 7, bottom)
p1.append((364, list(zip(LATS, CO2_360)) + [(91, CO2_360[-1]), (91, bottom), (-70, bottom)]))
over1 = [(375, list(zip(CO2_370_LAT, CO2_370)) + [(CO2_370_LAT[-1], bottom), (-70, bottom)]),
         (382, list(zip(CO2_380_LAT, CO2_380)) + [(CO2_380_LAT[-1], bottom), (-70, bottom)])]
l1 = [list(zip(LATS, r)) for _, r, f in CO2_BANDS if f] + [list(zip(CO2_380_LAT, CO2_380))]
pale1 = [list(zip(LATS, r)) for _, r, f in CO2_BANDS if not f] + [list(zip(CO2_370_LAT, CO2_370))]

p2 = shaded(O_BANDS, 4.9, 0.08, bottom)
over2 = [(1.0, list(zip(LATS, O_12)) + [(91, O_12[-1]), (91, bottom), (-70, bottom)])]
l2 = [list(zip(LATS, r)) for _, r, f in O_BANDS if f]
pale2 = [list(zip(LATS, r)) for _, r, f in O_BANDS if not f]

p3, l3 = [], []
for v, f, pts in CR_PAINT:
    cut = pts if id(pts) in CR_WIDE else [(max(a, -70), b) for a, b in pts]
    p3.append((v, cut))
    if f:
        l3 += no_left_edge(cut)
l3 += CR_LINES

cs1, cs2, cs3 = jet(50, 400), jet(1, 5), jet(-5, 20)
main1 = panel(p1, pale1, l1, CO2_LABELS, TOP_MASK, -5, -1, 2e-5, [-4, -3, -2], -1, "CO\u2082. V8\u00a0\u00a020090215", W, H, cs1, -6, x0=3.5, over=over1)
main2 = panel(p2, pale2, l2, O_LABELS, TOP_MASK, -5, -1, 2e-5, [-4, -3, -2], -1, "Atomic oxygen. V8\u00a0\u00a020090215", W, H, cs2, -6, x0=3.5, over=over2)
main3 = panel(p3, None, l3, CR_LABELS, CR_MASK, -5, 1, 2e-5, [-4, -3, -2, -1, 0], 1, "MIPAS Cooling rates. V8\u00a0\u00a020090215", W, H, cs3, -8, y0=3, grid=0.06)

bar1 = bar(CO2_BAR_EDGES, lambda v: v, CO2_BAR_LINES, CO2_BAR_TICKS, "datum.value%50==0",
           [(400, "400", 11, ""), (350, "350", 6, ""), (300, "300", 6, ""), (250, "250", 6, ""), (200, "200", 6, ""), (150, "150", 6, ""), (100, "100", 6, ""), (50, "50", 0, "")],
           "ppmv", cs1, BW, H, 50, 400, x0=4, unit_dx=-6)
bar2 = bar(O_BAR_EDGES, lambda v: 10.0 ** v, O_BAR_LINES, O_BAR_TICKS, MAJOR_LOG,
           [(1e5, "10", 11, "5"), (1e4, "10", 6, "4"), (1e3, "10", 6, "3"), (1e2, "10", 6, "2"), (1e1, "10", 0, "1")],
           "ppmv", cs2, BW, H, 10, 1e5, log=True, x0=4, unit_dx=-6)
bar3 = bar(CR_BAR_EDGES, lambda v: v, CR_BAR_LINES, CR_BAR_TICKS, "datum.value%5==0",
           [(20, "20", 12, ""), (15, "15", 6, ""), (10, "10", 6, ""), (5, "5", 6, ""), (0, "0", 6, ""), (-5, "-5", -1, "")],
           "K/day", cs3, BW, H, -5, 20, y0=3, unit_dx=-1)

chart = alt.concat(main1, bar1, main2, bar2, main3, bar3, columns=2, spacing={"row": 93, "column": 50}, bounds="flush").properties(
    autosize=alt.AutoSizeParams(type="none"),
    padding={"left": 76.5, "top": 26, "right": 527, "bottom": 1208}
).configure_view(stroke=None).resolve_scale(fill="independent", stroke="independent")

chart.save("out.html", embed_options={"renderer": "svg", "actions": False})
